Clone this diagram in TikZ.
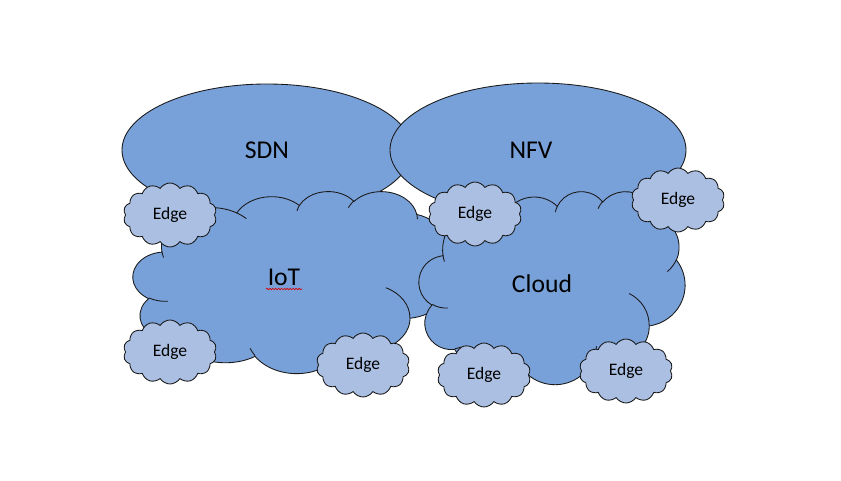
\documentclass[tikz,border=0pt]{standalone}
\usepackage{fontspec}
\setmainfont{Carlito}
\usetikzlibrary{shapes.symbols,decorations.pathmorphing}
\definecolor{bigblue}{RGB}{121,161,217}
\definecolor{edgeblue}{RGB}{170,191,226}
\definecolor{outline}{RGB}{25,25,25}
\tikzset{
  ocarc/.style n args={4}{insert path={arc[start angle={atan2(#1*sin(#3),#2*cos(#3))},
     delta angle={mod(atan2(#1*sin(#3+#4),#2*cos(#3+#4))-atan2(#1*sin(#3),#2*cos(#3))+720,360)},
     x radius=#1, y radius=#2]}},
  outl/.style={draw=outline, line width=0.65pt},
  bigfill/.style={outl, fill=bigblue},
  bigtext/.style={font=\fontsize{19.3}{23}\selectfont, text=black, inner sep=0pt},
  edgecloud/.style={cloud, cloud puffs=14, cloud puff arc=115, cloud ignores aspect, outl,
     fill=edgeblue, minimum width=70bp, minimum height=48bp, inner sep=0pt,
     font=\fontsize{13.2}{15}\selectfont, text=black}
}
\newcommand\officecloud[4]{%
  \begin{scope}[shift={(#1,#2)}, xscale=#3/43.2, yscale=#4/43.2]
    \path[bigfill] (3.9,14.37)
      [ocarc={6.753}{9.19}{-190.4875}{123.7805}]
      [ocarc={5.333}{7.267}{-144.1024}{89.9452}]
      [ocarc={4.365}{5.945}{-145.8079}{99.7230}]
      [ocarc={4.857}{6.595}{-130.9861}{117.2417}]
      [ocarc={5.333}{7.273}{-78.7089}{109.0269}]
      [ocarc={6.775}{9.22}{-46.2673}{130.2690}]
      [ocarc={5.785}{7.867}{0.6250}{114.0333}]
      [ocarc={6.752}{9.215}{22.4516}{115.1726}]
      [ocarc={7.72}{10.543}{66.2426}{75.7110}]
      [ocarc={4.36}{5.918}{-274.9421}{146.7356}]
      [ocarc={4.345}{5.945}{-246.8285}{152.5189}]
      -- cycle;
    \path[outl]
      (4.693,26.177) [ocarc={4.345}{5.945}{86.742}{26.4295}]
      (6.928,34.899) [ocarc={4.36}{5.918}{73.6105}{11.4475}]
      (16.478,39.09) [ocarc={6.752}{9.215}{137.6242}{14.0811}]
      (28.827,34.751) [ocarc={6.752}{9.215}{6.4533}{15.9984}]
      (34.129,22.954) [ocarc={5.785}{7.867}{-70.2924}{70.9174}]
      (41.798,15.354) [ocarc={5.333}{7.273}{30.318}{27.7515}]
      (38.324,5.426) [ocarc={4.857}{6.595}{-13.7443}{14.8576}]
      (29.078,3.952) [ocarc={4.857}{6.595}{-149.1815}{18.1959}]
      (22.141,4.72) [ocarc={4.365}{5.945}{-163.4943}{17.6966}]
      (14.0,5.192) [ocarc={6.753}{9.19}{-66.707}{12.3194}]
      (4.127,15.789) [ocarc={6.753}{9.19}{157.6544}{11.8582}];
  \end{scope}}
\begin{document}
\begin{tikzpicture}[x=0.75bp, y=0.75bp, yscale=-1]
\useasboundingbox (0,0) rectangle (841,481);
\fill[white] (0,0) rectangle (841,481);
% ellipses
\path[bigfill] (267,150) ellipse[x radius=145, y radius=66];
\path[bigfill] (538,150) ellipse[x radius=148, y radius=67];
% big clouds
\officecloud{133}{191}{320}{182}
\officecloud{419}{191}{266}{193}
% labels
\node[bigtext] (sdn) at (267,150) {SDN};
\node[bigtext] (nfv) at (531,150) {NFV};
\node[bigtext] (iot) at (284,277) {IoT};
\node[bigtext] (cloud) at (542,284) {Cloud};
\draw[red!85!black, line width=0.5pt, decorate,
      decoration={snake, amplitude=0.55pt, segment length=2.2pt}] (266,289) -- (302,289);
% edge clouds
\node[edgecloud] (e1) at (170,215) {Edge};
\node[edgecloud] (e2) at (170,352) {Edge};
\node[edgecloud] (e3) at (363,365) {Edge};
\node[edgecloud] (e4) at (475,214) {Edge};
\node[edgecloud] (e5) at (678,200) {Edge};
\node[edgecloud] (e6) at (484,375) {Edge};
\node[edgecloud] (e7) at (626,371) {Edge};
\end{tikzpicture}
\end{document}
